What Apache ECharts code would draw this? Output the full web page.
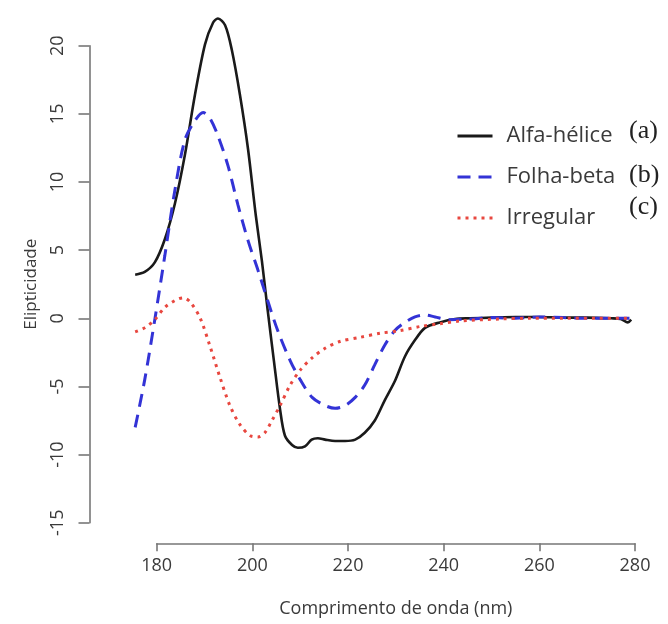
<!DOCTYPE html>
<html>
<head>
<meta charset="utf-8">
<script src="https://cdn.jsdelivr.net/npm/echarts@6/dist/echarts.min.js"></script>
<style>html,body{margin:0;padding:0;background:#fff}#c{width:668px;height:624px}</style>
</head>
<body>
<div id="c"></div>
<script>
// ---- data (wavelength nm, ellipticity) ----
var seriesNames = ['Alfa-hélice', 'Folha-beta', 'Irregular'];
var panelTags = ['(a)', '(b)', '(c)'];
var xTicks = [180, 200, 220, 240, 260, 280];
var yTicks = [-15, -10, -5, 0, 5, 10, 15, 20];

var alphaX = [175.5,177.5,179.6,181.7,183.8,185.9,188.0,190.1,191.8,192.8,194.3,195.7,197.4,199.1,200.7,202.0,203.2,204.5,205.8,206.8,208.3,209.5,211.0,212.4,213.7,215.2,217.3,219.4,221.5,223.5,225.6,227.7,229.8,231.9,234.0,236.1,239.2,242.4,245.5,250,255,260,265,270,275,277,278.5,279.2];
var alphaY = [3.2,3.4,4.1,5.8,8.4,12.0,16.4,20.1,21.7,22.0,21.5,19.7,16.4,12.4,7.6,4.2,0.6,-3.1,-6.7,-8.6,-9.3,-9.5,-9.4,-8.9,-8.8,-8.9,-9.0,-9.0,-8.9,-8.4,-7.5,-6.0,-4.6,-2.8,-1.6,-0.7,-0.3,-0.05,0,0.05,0.1,0.1,0.05,0.05,0,-0.05,-0.3,-0.1];

var betaX = [175.5,177.5,179.6,181.7,183.8,185.9,188.0,189.7,191.1,192.8,194.9,197.0,199.1,201.2,203.2,205.3,207.9,210.0,212.5,215.2,217.3,219.4,221.5,223.5,225.6,227.7,229.8,231.9,234.0,236.1,238.2,241.3,245.5,250,255,260,265,270,275,279.2];
var betaY = [-8.0,-4.5,-0.1,4.6,9.4,13.1,14.5,15.1,14.7,13.4,11.2,8.3,5.7,3.5,1.3,-0.9,-3.1,-4.5,-5.8,-6.4,-6.6,-6.4,-5.8,-4.9,-3.4,-1.96,-0.9,-0.3,0.1,0.25,0.1,-0.1,-0.05,0.05,0,0.1,0.05,0,0,0];

var irregX = [175.5,177.5,179.6,181.7,183.8,185.5,187.0,189.1,191.1,193.2,195.3,197.4,199.5,201.2,202.6,204.1,205.8,207.9,210.0,212.5,215.2,218.3,222.5,226.7,230.9,235.1,239.2,243.4,251.8,258,265,272,279.2];
var irregY = [-1.0,-0.7,-0.1,0.8,1.3,1.5,1.2,0,-2.0,-4.3,-6.4,-7.8,-8.6,-8.7,-8.4,-7.5,-6.4,-4.9,-3.8,-2.9,-2.2,-1.7,-1.4,-1.1,-0.9,-0.6,-0.4,-0.2,-0.05,0,0,0,0];

function zip(xs, ys){ return xs.map(function(x,i){ return [x, ys[i]]; }); }

// ---- layout ----
var FONT = 'Open Sans';
var axisColor = '#777';
var labelColor = '#3a3a3a';
var X0 = 156.7, PXNM = 4.783, Y0 = 318.3, PXU = 13.63;
var dXmin = 174, dXmax = 282, dYmin = -16, dYmax = 23;

var chart = echarts.init(document.getElementById('c'), null, {renderer: 'canvas'});
var option = {
  animation: false,
  backgroundColor: '#fff',
  grid: [
    {left: X0 + (dXmin - 180) * PXNM, right: 668 - (X0 + (dXmax - 180) * PXNM),
     top: Y0 - dYmax * PXU, bottom: 624 - (Y0 - dYmin * PXU)},
    {left: X0, right: 668 - (X0 + 100 * PXNM), bottom: 624 - 543.3, height: 10},
    {left: 89.5, width: 10, top: Y0 - 20 * PXU, bottom: 624 - (Y0 + 15 * PXU)}
  ],
  xAxis: [
    {gridIndex: 0, type: 'value', min: dXmin, max: dXmax, show: false},
    {gridIndex: 1, type: 'value', min: xTicks[0], max: xTicks[xTicks.length-1], interval: 20,
     axisLine: {show: true, lineStyle: {color: axisColor, width: 1.6}},
     axisTick: {show: true, length: 8, lineStyle: {color: axisColor, width: 1.6}},
     axisLabel: {show: true, margin: 14, fontFamily: FONT, fontSize: 18, color: labelColor},
     splitLine: {show: false},
     name: 'Comprimento de onda (nm)', nameLocation: 'middle', nameGap: 57,
     nameTextStyle: {fontFamily: FONT, fontSize: 18, color: labelColor}},
    {gridIndex: 2, type: 'value', show: false}
  ],
  yAxis: [
    {gridIndex: 0, type: 'value', min: dYmin, max: dYmax, show: false},
    {gridIndex: 1, type: 'value', show: false},
    {gridIndex: 2, type: 'value', min: yTicks[0], max: yTicks[yTicks.length-1], interval: 5,
     axisLine: {show: true, lineStyle: {color: axisColor, width: 1.6}},
     axisTick: {show: true, length: 11, lineStyle: {color: axisColor, width: 1.6}},
     axisLabel: {show: true, rotate: 90, margin: 23, fontFamily: FONT, fontSize: 18, color: labelColor},
     splitLine: {show: false},
     name: 'Elipticidade', nameLocation: 'middle', nameGap: 50,
     nameTextStyle: {fontFamily: FONT, fontSize: 17, color: labelColor}}
  ],
  legend: {
    orient: 'vertical', left: 451, top: 120,
    itemWidth: 35, itemHeight: 14, itemGap: 19,
    itemStyle: {opacity: 0},
    lineStyle: {width: 3},
    textStyle: {fontFamily: FONT, fontSize: 22, color: '#3a3a3a', padding: [0, 0, 0, 9]},
    data: seriesNames
  },
  graphic: panelTags.map(function(t, i){
    var ys = [134, 178, 210];
    return {type: 'text', left: 629, top: ys[i] - 16,
      style: {text: t, font: '26px "Liberation Serif", "DejaVu Serif", serif', fill: '#222'}};
  }),
  series: [
    {name: seriesNames[0], type: 'line', xAxisIndex: 0, yAxisIndex: 0, data: zip(alphaX, alphaY),
     symbol: 'none', smooth: 0.3, lineStyle: {color: '#1a1a1a', width: 2.6}, itemStyle: {color: '#1a1a1a'}},
    {name: seriesNames[1], type: 'line', xAxisIndex: 0, yAxisIndex: 0, data: zip(betaX, betaY),
     symbol: 'none', smooth: 0.3, lineStyle: {color: '#3333d6', width: 3, type: [13, 8]}, itemStyle: {color: '#3333d6'}},
    {name: seriesNames[2], type: 'line', xAxisIndex: 0, yAxisIndex: 0, data: zip(irregX, irregY),
     symbol: 'none', smooth: 0.3, lineStyle: {color: '#e8473f', width: 3, type: [3, 5]}, itemStyle: {color: '#e8473f'}}
  ]
};
chart.setOption(option);
</script>
</body>
</html>
